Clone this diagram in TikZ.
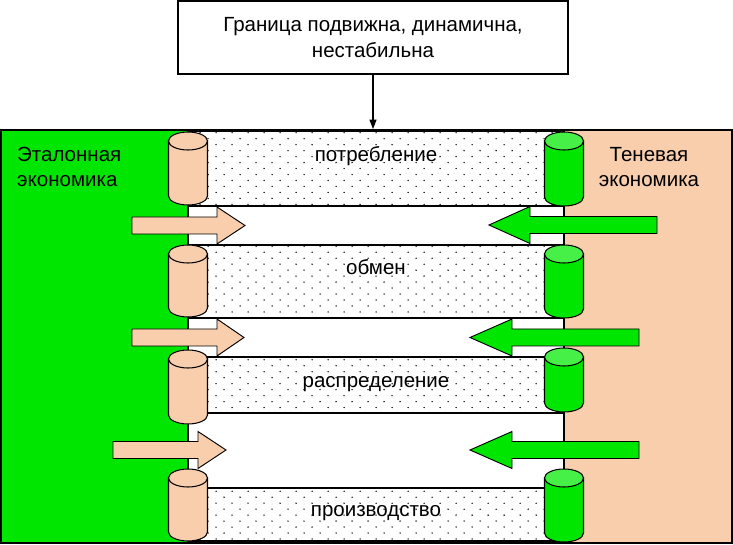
\documentclass[tikz,border=0pt]{standalone}
\usepackage{fontspec}
\setmainfont{Liberation Sans}
\usetikzlibrary{arrows.meta,positioning,patterns}
\definecolor{ecogreen}{RGB}{0,230,0}
\definecolor{ecogreenlt}{RGB}{70,240,70}
\definecolor{ecopeach}{RGB}{248,206,172}

% dotted fill of the bands
\pgfdeclarepatternformonly{ecodots}{\pgfqpoint{-1pt}{-1pt}}{\pgfqpoint{14pt}{11pt}}%
  {\pgfqpoint{13.66pt}{10.2pt}}%
  {\pgfpathcircle{\pgfqpoint{0pt}{0pt}}{0.65pt}%
   \pgfpathcircle{\pgfqpoint{6.83pt}{5.1pt}}{0.65pt}\pgfusepath{fill}}

% cylinder: centre x, top y, bottom y, body colour, lid colour
\newcommand{\ecocyl}[5]{%
  \draw[cylline, fill=#4] (#1-19.5,#2+9) -- (#1-19.5,#3-9)
    .. controls (#1-19.5,#3-4) and (#1-10.8,#3) .. (#1,#3)
    .. controls (#1+10.8,#3) and (#1+19.5,#3-4) .. (#1+19.5,#3-9)
    -- (#1+19.5,#2+9) -- cycle;
  \draw[cylline, fill=#5] (#1,#2+9) ellipse [x radius=19.5, y radius=9];
}
% block arrow: tail x, head base x, tip x, middle y, colour
\newcommand{\ecoarrow}[5]{%
  \draw[blockarrow, fill=#5] (#1,#4-8.5) -- (#2,#4-8.5) -- (#2,#4-18.5)
    -- (#3,#4) -- (#2,#4+18.5) -- (#2,#4+8.5) -- (#1,#4+8.5) -- cycle;
}

\begin{document}
\begin{tikzpicture}[x=0.03cm, y=-0.03cm,
  txt/.style={font=\fontsize{17.5}{21.5}\selectfont, inner sep=0pt},
  topbox/.style={draw, line width=0.9pt, fill=white, txt, align=center,
    minimum width=11.7cm, minimum height=2.19cm},
  band/.style={draw, line width=0.9pt, fill=white, postaction={pattern=ecodots}},
  cylline/.style={line width=0.9pt},
  blockarrow/.style={line width=0.8pt, line join=miter}
]
  \useasboundingbox (0,0) rectangle (733,545);

  % sides
  \fill[ecogreen] (1,130) rectangle (188,543);
  \fill[ecopeach] (564,130) rectangle (732,543);
  \draw[line width=0.9pt] (188,130) -- (188,543);
  \draw[line width=0.9pt] (564,130) -- (564,543);

  % bands
  \draw[band] (188,131) rectangle (564,206);
  \draw[band] (188,245) rectangle (564,318);
  \draw[band] (188,357) rectangle (564,413);
  \draw[band] (188,488) rectangle (564,541);

  \draw[line width=1.2pt] (1,130) rectangle (732,543);

  % cylinders
  \ecocyl{188}{132}{205}{ecopeach}{ecopeach}
  \ecocyl{188}{245}{317}{ecopeach}{ecopeach}
  \ecocyl{188}{350}{424}{ecopeach}{ecopeach}
  \ecocyl{188}{469}{541}{ecopeach}{ecopeach}
  \ecocyl{564}{132}{206}{ecogreen}{ecogreenlt}
  \ecocyl{564}{245}{318}{ecogreen}{ecogreenlt}
  \ecocyl{564}{348}{412}{ecogreen}{ecogreenlt}
  \ecocyl{564}{469}{542}{ecogreen}{ecogreenlt}

  % flows
  \ecoarrow{132}{217}{245}{225.5}{ecopeach}
  \ecoarrow{132}{217}{244}{337.5}{ecopeach}
  \ecoarrow{113}{198}{226}{450}{ecopeach}
  \ecoarrow{657}{530}{489}{225}{ecogreen}
  \ecoarrow{639}{512}{470}{337.5}{ecogreen}
  \ecoarrow{639}{512}{470}{450}{ecogreen}

  % labels
  \node[txt, anchor=base] (potr) at (376,162) {потребление};
  \node[txt, anchor=base] (obmen) at (376,275) {обмен};
  \node[txt, anchor=base] (raspr) at (376,387) {распределение};
  \node[txt, anchor=base] (proizv) at (376,516) {производство};
  \node[txt, align=left, anchor=west] (etalon) at (17,167) {Эталонная\\экономика};
  \node[txt, align=center] (tenev) at (649,167) {Теневая\\экономика};

  % boundary
  \node[topbox] (limit) at (373,37.5) {Граница подвижна, динамична,\\нестабильна};
  \coordinate (frametop) at (373,129);
  \draw[line width=0.9pt, -{Triangle[length=8pt,width=6pt]}] (limit) -- (frametop);
\end{tikzpicture}
\end{document}
